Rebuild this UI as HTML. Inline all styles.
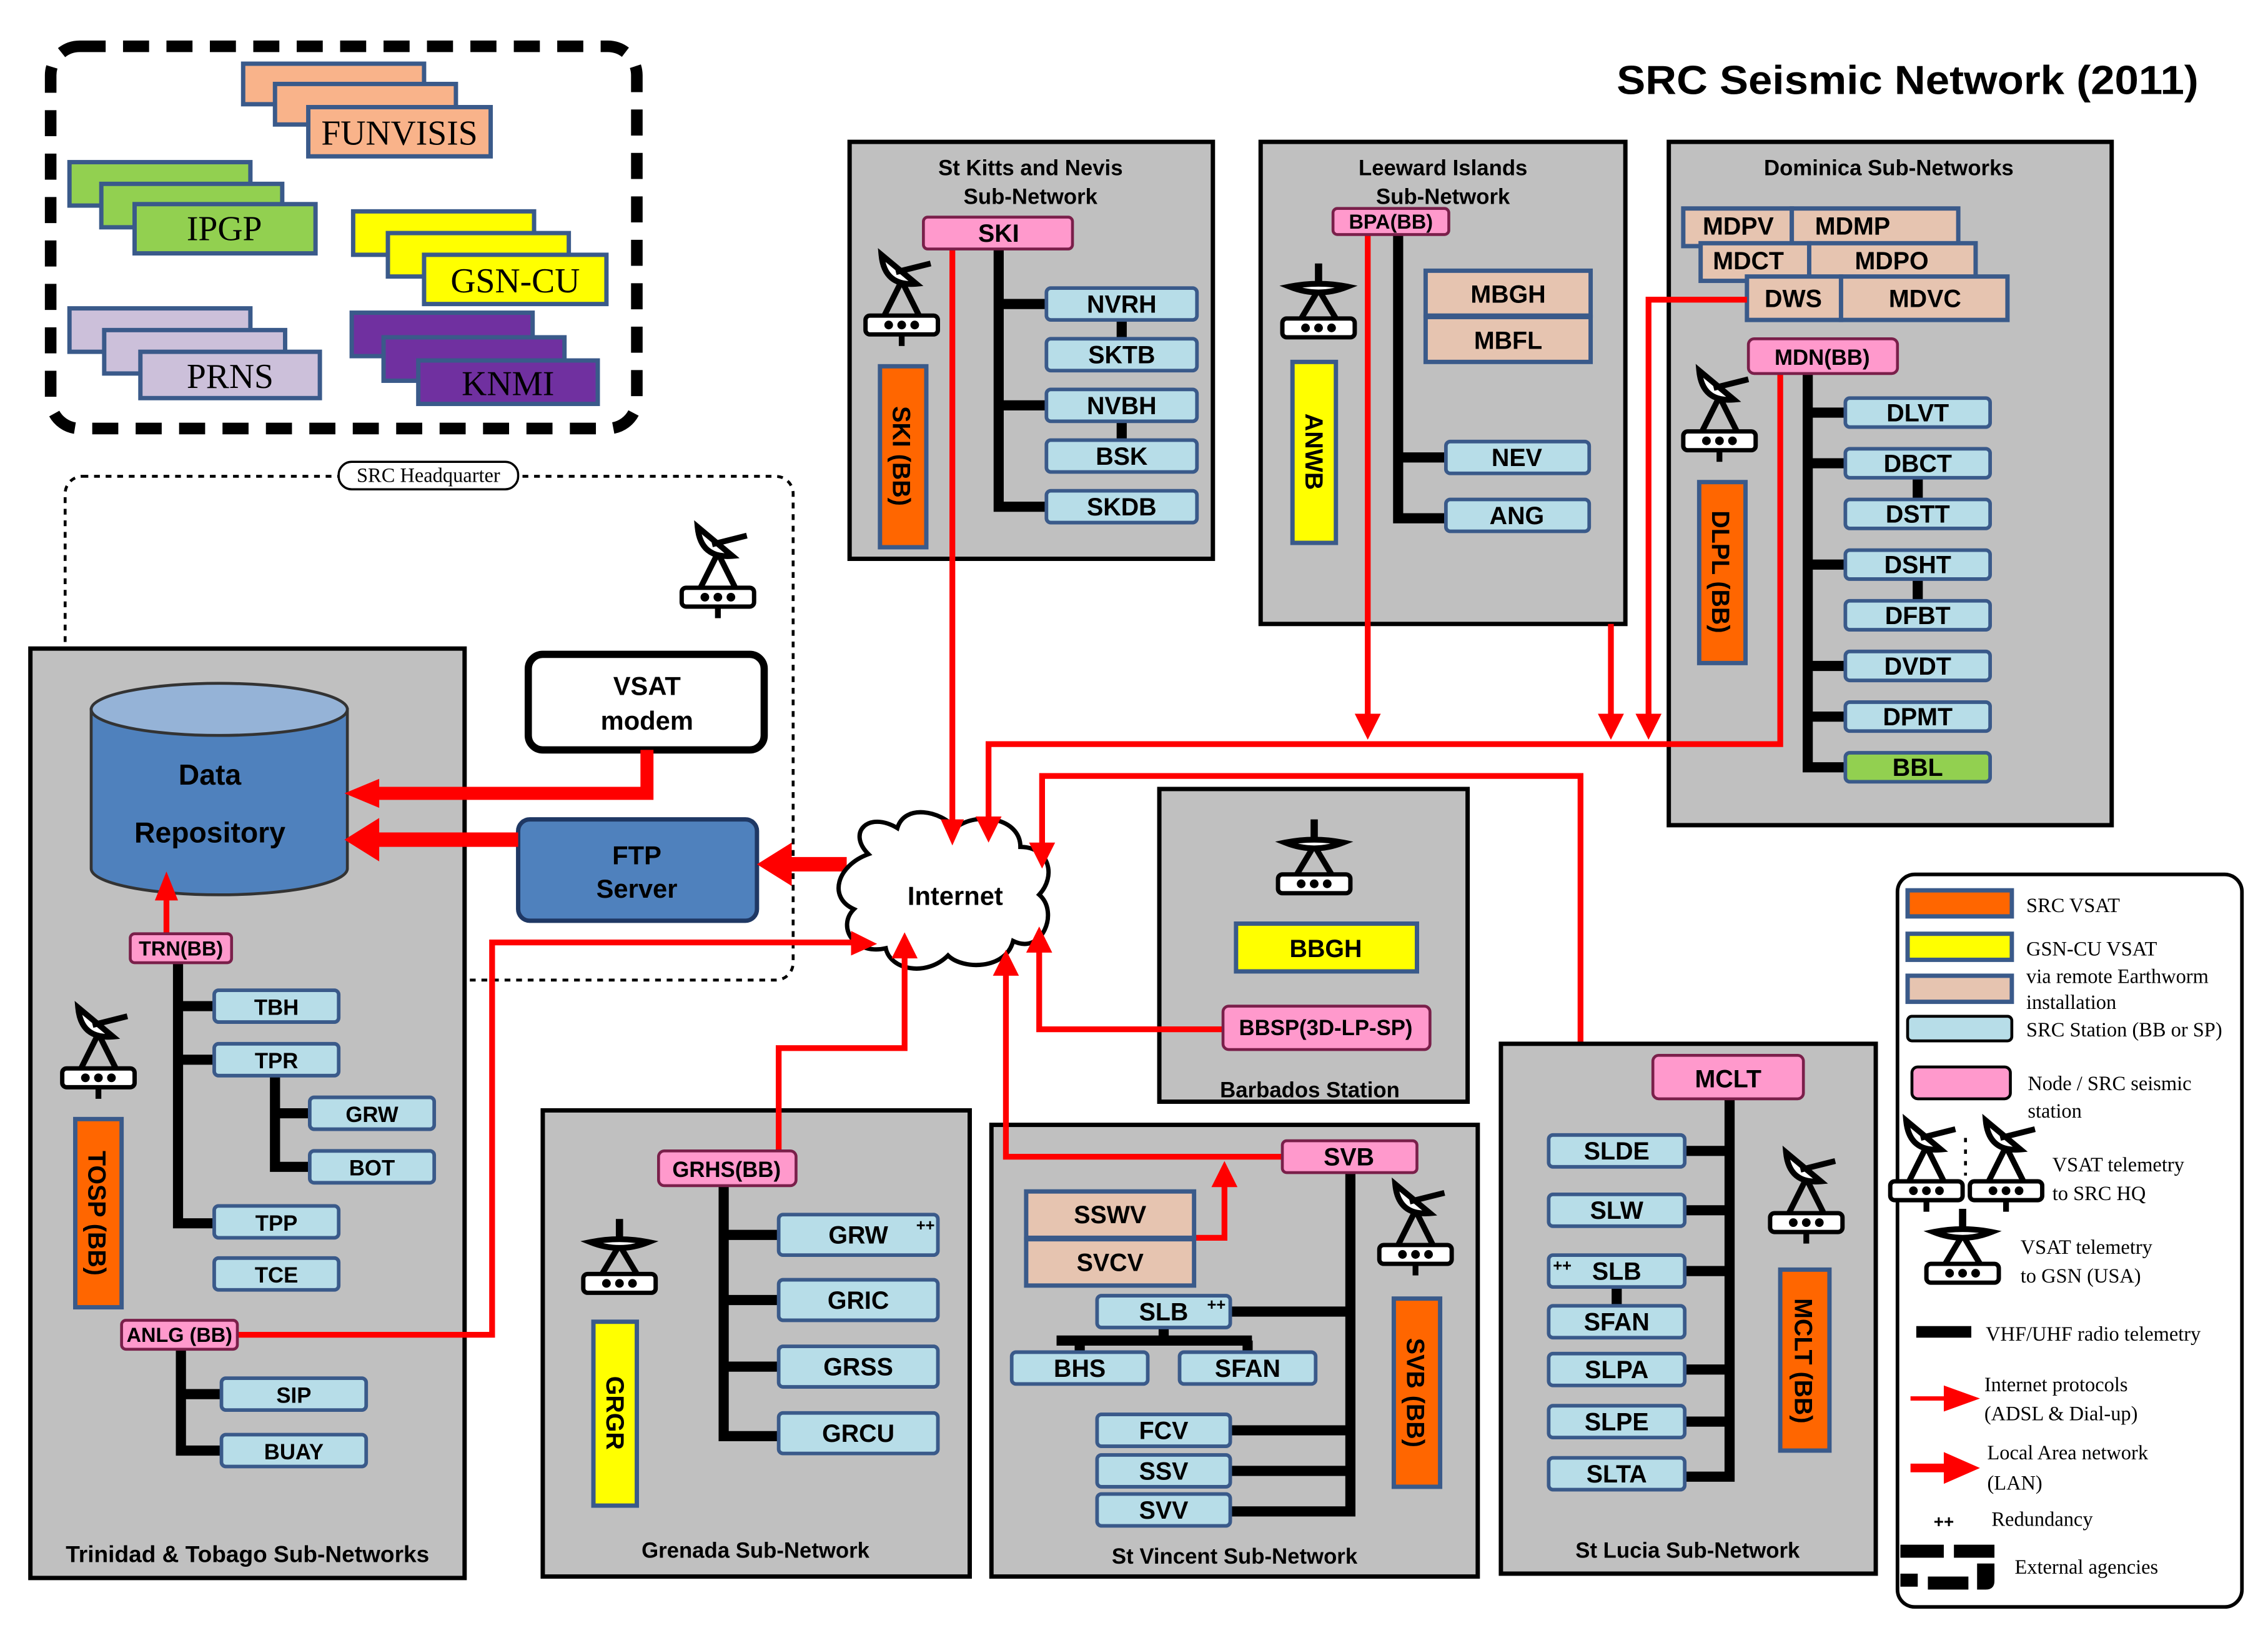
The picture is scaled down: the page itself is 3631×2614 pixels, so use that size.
<!DOCTYPE html>
<html><head><meta charset="utf-8"><style>
html,body{margin:0;padding:0;background:#fff}
svg{display:block}
.s{font-family:"Liberation Sans",sans-serif;font-weight:bold}
.r{font-family:"Liberation Serif",serif}
</style></head><body>
<svg width="3631" height="2614" viewBox="0 0 1567 1128" preserveAspectRatio="none" xmlns="http://www.w3.org/2000/svg">
<defs>
<g id="dish">
<rect x="-25" y="0" width="50" height="13" rx="3" fill="#fff" stroke="#000" stroke-width="3"/>
<circle cx="-9" cy="6.5" r="3" fill="#000"/><circle cx="0" cy="6.5" r="3" fill="#000"/><circle cx="9" cy="6.5" r="3" fill="#000"/>
<rect x="-2" y="13" width="4" height="8" fill="#000"/>
<path d="M-12 0 L0 -24 L12 0" fill="none" stroke="#000" stroke-width="4"/>
<path d="M-14 -42 Q-12 -20 10 -22 Z" fill="#fff" stroke="#000" stroke-width="4"/>
<path d="M-4 -30 L20 -36" stroke="#000" stroke-width="4"/>
</g>
<g id="dish2">
<rect x="-25" y="0" width="50" height="13" rx="3" fill="#fff" stroke="#000" stroke-width="3"/>
<circle cx="-9" cy="6.5" r="3" fill="#000"/><circle cx="0" cy="6.5" r="3" fill="#000"/><circle cx="9" cy="6.5" r="3" fill="#000"/>
<path d="M-12 0 L0 -20 L12 0" fill="none" stroke="#000" stroke-width="4"/>
<path d="M-20 -22 Q0 -14 20 -22 Q0 -26 -20 -22Z" fill="#fff" stroke="#000" stroke-width="4"/>
<path d="M0 -24 L0 -38" stroke="#000" stroke-width="5"/>
</g>
</defs>

<text x="1318" y="65" text-anchor="middle" class="s" font-size="28" textLength="402" lengthAdjust="spacingAndGlyphs">SRC Seismic Network (2011)</text>

<!-- External agencies -->
<rect x="35" y="32" width="405" height="264" rx="20" fill="none" stroke="#000" stroke-width="8" stroke-dasharray="18,12"/>
<g stroke="#3a5a8a" stroke-width="3">
<rect x="168" y="44" width="125" height="28" fill="#f9b38a"/>
<rect x="190" y="58" width="125" height="28" fill="#f9b38a"/>
<rect x="213" y="74" width="126" height="34" fill="#f9b38a"/>
<rect x="48" y="112" width="125" height="30" fill="#92d050"/>
<rect x="70" y="127" width="125" height="30" fill="#92d050"/>
<rect x="93" y="141" width="125" height="34" fill="#92d050"/>
<rect x="244" y="146" width="125" height="30" fill="#ffff00"/>
<rect x="268" y="161" width="125" height="30" fill="#ffff00"/>
<rect x="293" y="176" width="126" height="34" fill="#ffff00"/>
<rect x="48" y="213" width="125" height="30" fill="#ccc0da"/>
<rect x="72" y="228" width="125" height="30" fill="#ccc0da"/>
<rect x="97" y="243" width="124" height="32" fill="#ccc0da"/>
<rect x="243" y="216" width="125" height="30" fill="#7030a0"/>
<rect x="265" y="233" width="125" height="30" fill="#7030a0"/>
<rect x="289" y="249" width="124" height="30" fill="#7030a0"/>
</g>
<g class="r" font-size="24" text-anchor="middle">
<text x="276" y="100">FUNVISIS</text><text x="155" y="166">IPGP</text>
<text x="356" y="202">GSN-CU</text><text x="159" y="268">PRNS</text><text x="351" y="273">KNMI</text>
</g>

<!-- SRC HQ -->
<rect x="45" y="329" width="503" height="348" rx="12" fill="none" stroke="#000" stroke-width="2" stroke-dasharray="4,4"/>
<rect x="234" y="319" width="124" height="19" rx="9" fill="#fff" stroke="#000" stroke-width="1.5"/>
<text x="296" y="333" text-anchor="middle" class="r" font-size="14">SRC Headquarter</text>

<!-- T&T -->
<rect x="21" y="448" width="300" height="642" fill="#c0c0c0" stroke="#000" stroke-width="3"/>
<text x="171" y="1079" text-anchor="middle" class="s" font-size="16">Trinidad &amp; Tobago Sub-Networks</text>
<path d="M63 490 L63 600 A88 18 0 0 0 240 600 L240 490 Z" fill="#4f81bd" stroke="#333" stroke-width="2"/>
<ellipse cx="151.5" cy="490" rx="88.5" ry="18" fill="#95b3d7" stroke="#333" stroke-width="2"/>
<text x="145" y="542" text-anchor="middle" class="s" font-size="20">Data</text>
<text x="145" y="582" text-anchor="middle" class="s" font-size="20">Repository</text>

<rect x="365" y="452" width="163" height="66" rx="10" fill="#fff" stroke="#000" stroke-width="5"/>
<text x="447" y="480" text-anchor="middle" class="s" font-size="18">VSAT</text>
<text x="447" y="504" text-anchor="middle" class="s" font-size="18">modem</text>
<use href="#dish" x="496" y="406"/>
<rect x="358" y="566" width="165" height="70" rx="8" fill="#4f81bd" stroke="#1f3864" stroke-width="3"/>
<text x="440" y="597" text-anchor="middle" class="s" font-size="18">FTP</text>
<text x="440" y="620" text-anchor="middle" class="s" font-size="18">Server</text>

<!-- thick LAN arrows -->
<path d="M447 518 V548 H258" fill="none" stroke="#ff0000" stroke-width="9"/>
<path d="M262 538 L238 548 L262 558Z" fill="#ff0000"/>
<path d="M358 580 H258" stroke="#ff0000" stroke-width="10"/>
<path d="M262 565 L238 580 L262 595Z" fill="#ff0000"/>
<path d="M585 597 H543" stroke="#ff0000" stroke-width="10"/>
<path d="M547 582 L523 597 L547 612Z" fill="#ff0000"/>

<!-- Internet cloud -->
<path d="M600 590 C585 575 600 560 620 572 C625 555 650 560 660 572 C675 560 705 565 705 585 C725 585 730 605 718 618 C732 630 720 660 700 650 C695 670 665 670 655 660 C640 675 615 670 612 655 C590 660 578 640 590 628 C572 620 578 598 600 590 Z" fill="#fff" stroke="#000" stroke-width="3"/>
<text x="660" y="625" text-anchor="middle" class="s" font-size="18">Internet</text>

<!-- TRN -->
<g stroke="#000" stroke-width="7" fill="none">
<path d="M123 665 V845 H148"/><path d="M123 695 H148"/><path d="M123 732 H190 V806 H214"/><path d="M190 769 H214"/>
<path d="M125 932 V1002 H153"/><path d="M125 963 H153"/>
</g>
<g fill="#ff0000" stroke="none"><rect x="113" y="620" width="4" height="25"/><path d="M107 622 L115 602 L123 622Z"/></g>
<rect x="90" y="645" width="70" height="20" rx="3" fill="#ff99cc" stroke="#7a1f4a" stroke-width="2"/>
<text x="125" y="660" text-anchor="middle" class="s" font-size="14">TRN(BB)</text>
<g fill="#b7dde8" stroke="#3a5a8a" stroke-width="2.5">
<rect x="148" y="684" width="86" height="22" rx="3"/><rect x="148" y="721" width="86" height="22" rx="3"/>
<rect x="214" y="758" width="86" height="22" rx="3"/><rect x="214" y="795" width="86" height="22" rx="3"/>
<rect x="148" y="833" width="86" height="22" rx="3"/><rect x="148" y="869" width="86" height="22" rx="3"/>
<rect x="153" y="952" width="100" height="22" rx="3"/><rect x="153" y="991" width="100" height="22" rx="3"/>
</g>
<g class="s" font-size="15" text-anchor="middle">
<text x="191" y="701">TBH</text><text x="191" y="738">TPR</text><text x="257" y="775">GRW</text><text x="257" y="812">BOT</text>
<text x="191" y="850">TPP</text><text x="191" y="886">TCE</text><text x="203" y="969">SIP</text><text x="203" y="1008">BUAY</text>
</g>
<use href="#dish" x="68" y="738"/>
<rect x="52" y="773" width="32" height="130" fill="#ff6600" stroke="#3a5a8a" stroke-width="3"/>
<text transform="translate(61,838) rotate(90)" text-anchor="middle" class="s" font-size="17">TOSP (BB)</text>
<path d="M164 922 H340 V651 H590" fill="none" stroke="#ff0000" stroke-width="4"/>
<path d="M588 643 L606 652 L588 660Z" fill="#ff0000"/>
<rect x="84" y="912" width="80" height="20" rx="3" fill="#ff99cc" stroke="#7a1f4a" stroke-width="2"/>
<text x="124" y="927" text-anchor="middle" class="s" font-size="14">ANLG (BB)</text>

<!-- St Kitts -->
<rect x="587" y="98" width="251" height="288" fill="#c0c0c0" stroke="#000" stroke-width="3"/>
<text x="712" y="121" text-anchor="middle" class="s" font-size="15">St Kitts and Nevis</text>
<text x="712" y="141" text-anchor="middle" class="s" font-size="15">Sub-Network</text>
<g stroke="#000" stroke-width="7" fill="none">
<path d="M690 172 V350 H723"/><path d="M690 210 H723"/><path d="M690 280 H723"/><path d="M775 221 V234"/><path d="M775 291 V304"/>
</g>
<g fill="#b7dde8" stroke="#3a5a8a" stroke-width="2.5">
<rect x="723" y="199" width="104" height="22" rx="3"/><rect x="723" y="234" width="104" height="22" rx="3"/>
<rect x="723" y="269" width="104" height="22" rx="3"/><rect x="723" y="304" width="104" height="22" rx="3"/><rect x="723" y="339" width="104" height="22" rx="3"/>
</g>
<g class="s" font-size="17" text-anchor="middle">
<text x="775" y="216">NVRH</text><text x="775" y="251">SKTB</text><text x="775" y="286">NVBH</text><text x="775" y="321">BSK</text><text x="775" y="356">SKDB</text>
</g>
<use href="#dish" x="623" y="218"/>
<rect x="608" y="253" width="32" height="125" fill="#ff6600" stroke="#3a5a8a" stroke-width="3"/>
<text transform="translate(617,315) rotate(90)" text-anchor="middle" class="s" font-size="17">SKI (BB)</text>
<path d="M658 172 V568" stroke="#ff0000" stroke-width="4"/><path d="M650 566 L658 584 L666 566Z" fill="#ff0000"/>
<rect x="638" y="150" width="103" height="22" rx="3" fill="#ff99cc" stroke="#7a1f4a" stroke-width="2"/>
<text x="690" y="167" text-anchor="middle" class="s" font-size="17">SKI</text>

<!-- Leeward -->
<rect x="871" y="98" width="252" height="333" fill="#c0c0c0" stroke="#000" stroke-width="3"/>
<text x="997" y="121" text-anchor="middle" class="s" font-size="15">Leeward Islands</text>
<text x="997" y="141" text-anchor="middle" class="s" font-size="15">Sub-Network</text>
<g stroke="#000" stroke-width="7" fill="none"><path d="M966 162 V358 H999"/><path d="M966 316 H999"/></g>
<rect x="985" y="187" width="114" height="31" fill="#e6c4b0" stroke="#3a5a8a" stroke-width="3"/>
<rect x="985" y="219" width="114" height="31" fill="#e6c4b0" stroke="#3a5a8a" stroke-width="3"/>
<rect x="999" y="305" width="99" height="22" rx="3" fill="#b7dde8" stroke="#3a5a8a" stroke-width="2.5"/>
<rect x="999" y="345" width="99" height="22" rx="3" fill="#b7dde8" stroke="#3a5a8a" stroke-width="2.5"/>
<g class="s" font-size="17" text-anchor="middle">
<text x="1042" y="209">MBGH</text><text x="1042" y="241">MBFL</text><text x="1048" y="322">NEV</text><text x="1048" y="362">ANG</text>
</g>
<use href="#dish2" x="911" y="220"/>
<rect x="893" y="250" width="30" height="125" fill="#ffff00" stroke="#3a5a8a" stroke-width="3"/>
<text transform="translate(902,312) rotate(90)" text-anchor="middle" class="s" font-size="17">ANWB</text>
<path d="M945 162 V496" stroke="#ff0000" stroke-width="4"/><path d="M936 493 L945 511 L954 493Z" fill="#ff0000"/>
<rect x="921" y="144" width="80" height="18" rx="3" fill="#ff99cc" stroke="#7a1f4a" stroke-width="2"/>
<text x="961" y="158" text-anchor="middle" class="s" font-size="14">BPA(BB)</text>
<path d="M1113 431 V496" stroke="#ff0000" stroke-width="4"/><path d="M1104 493 L1113 511 L1122 493Z" fill="#ff0000"/>

<!-- Dominica -->
<rect x="1153" y="98" width="306" height="472" fill="#c0c0c0" stroke="#000" stroke-width="3"/>
<text x="1305" y="121" text-anchor="middle" class="s" font-size="15">Dominica Sub-Networks</text>
<g fill="#e6c4b0" stroke="#3a5a8a" stroke-width="3">
<rect x="1163" y="144" width="75" height="26"/><rect x="1238" y="144" width="115" height="26"/>
<rect x="1175" y="168" width="75" height="26"/><rect x="1250" y="168" width="115" height="26"/>
<rect x="1207" y="191" width="65" height="30"/><rect x="1272" y="191" width="115" height="30"/>
</g>
<g class="s" font-size="17" text-anchor="middle">
<text x="1201" y="162">MDPV</text><text x="1280" y="162">MDMP</text><text x="1208" y="186">MDCT</text><text x="1307" y="186">MDPO</text>
<text x="1239" y="212">DWS</text><text x="1330" y="212">MDVC</text>
</g>
<g stroke="#000" stroke-width="7" fill="none">
<path d="M1249 258 V530 H1275"/><path d="M1249 285 H1275"/><path d="M1249 320 H1275"/><path d="M1249 390 H1275"/>
<path d="M1249 460 H1275"/><path d="M1249 495 H1275"/><path d="M1325 330 V345"/><path d="M1325 400 V415"/>
</g>
<g fill="#b7dde8" stroke="#3a5a8a" stroke-width="2.5">
<rect x="1275" y="275" width="100" height="20" rx="3"/><rect x="1275" y="310" width="100" height="20" rx="3"/>
<rect x="1275" y="345" width="100" height="20" rx="3"/><rect x="1275" y="380" width="100" height="20" rx="3"/>
<rect x="1275" y="415" width="100" height="20" rx="3"/><rect x="1275" y="450" width="100" height="20" rx="3"/>
<rect x="1275" y="485" width="100" height="20" rx="3"/><rect x="1275" y="520" width="100" height="20" rx="3" fill="#92d050"/>
</g>
<g class="s" font-size="17" text-anchor="middle">
<text x="1325" y="291">DLVT</text><text x="1325" y="326">DBCT</text><text x="1325" y="361">DSTT</text><text x="1325" y="396">DSHT</text>
<text x="1325" y="431">DFBT</text><text x="1325" y="466">DVDT</text><text x="1325" y="501">DPMT</text><text x="1325" y="536">BBL</text>
</g>
<use href="#dish" x="1188" y="298"/>
<rect x="1174" y="333" width="32" height="125" fill="#ff6600" stroke="#3a5a8a" stroke-width="3"/>
<text transform="translate(1183,395) rotate(90)" text-anchor="middle" class="s" font-size="17">DLPL (BB)</text>
<path d="M1207 207 H1139 V496" fill="none" stroke="#ff0000" stroke-width="4"/><path d="M1130 493 L1139 511 L1148 493Z" fill="#ff0000"/>
<path d="M1230 258 V514 H683 V566" fill="none" stroke="#ff0000" stroke-width="4"/><path d="M674 564 L683 582 L692 564Z" fill="#ff0000"/>
<rect x="1208" y="234" width="103" height="24" rx="4" fill="#ff99cc" stroke="#7a1f4a" stroke-width="2"/>
<text x="1259" y="252" text-anchor="middle" class="s" font-size="15">MDN(BB)</text>
<path d="M1142 744 H1092 V536 H720 V584" fill="none" stroke="#ff0000" stroke-width="4"/><path d="M711 582 L720 600 L729 582Z" fill="#ff0000"/>

<!-- Barbados -->
<rect x="801" y="545" width="213" height="216" fill="#c0c0c0" stroke="#000" stroke-width="3"/>
<use href="#dish2" x="908" y="604"/>
<rect x="854" y="638" width="125" height="33" fill="#ffff00" stroke="#3a5a8a" stroke-width="3"/>
<text x="916" y="661" text-anchor="middle" class="s" font-size="17">BBGH</text>
<path d="M845 711 H718 V656" fill="none" stroke="#ff0000" stroke-width="4"/><path d="M709 658 L718 640 L727 658Z" fill="#ff0000"/>
<rect x="845" y="695" width="143" height="30" rx="4" fill="#ff99cc" stroke="#7a1f4a" stroke-width="2"/>
<text x="916" y="715" text-anchor="middle" class="s" font-size="15">BBSP(3D-LP-SP)</text>
<text x="905" y="758" text-anchor="middle" class="s" font-size="15">Barbados Station</text>

<!-- Grenada -->
<rect x="375" y="767" width="295" height="322" fill="#c0c0c0" stroke="#000" stroke-width="3"/>
<text x="522" y="1076" text-anchor="middle" class="s" font-size="15">Grenada Sub-Network</text>
<path d="M538 795 V724 H625 V660" fill="none" stroke="#ff0000" stroke-width="4"/><path d="M616 662 L625 644 L634 662Z" fill="#ff0000"/>
<g stroke="#000" stroke-width="7" fill="none"><path d="M500 819 V992 H538"/><path d="M500 853 H538"/><path d="M500 898 H538"/><path d="M500 944 H538"/></g>
<g fill="#b7dde8" stroke="#3a5a8a" stroke-width="2.5">
<rect x="538" y="839" width="110" height="28" rx="3"/><rect x="538" y="884" width="110" height="28" rx="3"/>
<rect x="538" y="930" width="110" height="28" rx="3"/><rect x="538" y="976" width="110" height="28" rx="3"/>
</g>
<g class="s" font-size="17" text-anchor="middle">
<text x="593" y="859">GRW</text><text x="593" y="904">GRIC</text><text x="593" y="950">GRSS</text><text x="593" y="996">GRCU</text>
</g>
<text x="633" y="850" class="s" font-size="11">++</text>
<rect x="455" y="795" width="95" height="24" rx="4" fill="#ff99cc" stroke="#7a1f4a" stroke-width="2"/>
<text x="502" y="813" text-anchor="middle" class="s" font-size="15">GRHS(BB)</text>
<use href="#dish2" x="428" y="880"/>
<rect x="410" y="913" width="30" height="127" fill="#ffff00" stroke="#3a5a8a" stroke-width="3"/>
<text transform="translate(419,976) rotate(90)" text-anchor="middle" class="s" font-size="17">GRGR</text>

<!-- St Vincent -->
<rect x="685" y="777" width="336" height="312" fill="#c0c0c0" stroke="#000" stroke-width="3"/>
<text x="853" y="1080" text-anchor="middle" class="s" font-size="15">St Vincent Sub-Network</text>
<path d="M886 799 H695 V672" fill="none" stroke="#ff0000" stroke-width="4"/><path d="M686 674 L695 656 L704 674Z" fill="#ff0000"/>
<path d="M826 855 H846 V818" fill="none" stroke="#ff0000" stroke-width="4"/><path d="M837 820 L846 802 L855 820Z" fill="#ff0000"/>
<g stroke="#000" stroke-width="7" fill="none">
<path d="M933 810 V1044 H850"/><path d="M933 906 H850"/><path d="M933 988 H850"/><path d="M933 1016 H850"/>
<path d="M730 926 H865"/><path d="M746 926 V934"/><path d="M862 926 V934"/><path d="M804 917 V926"/>
</g>
<rect x="709" y="823" width="116" height="32" fill="#e6c4b0" stroke="#3a5a8a" stroke-width="3"/>
<rect x="709" y="856" width="116" height="32" fill="#e6c4b0" stroke="#3a5a8a" stroke-width="3"/>
<g fill="#b7dde8" stroke="#3a5a8a" stroke-width="2.5">
<rect x="758" y="895" width="92" height="22" rx="3"/><rect x="699" y="934" width="94" height="22" rx="3"/><rect x="815" y="934" width="94" height="22" rx="3"/>
<rect x="758" y="977" width="92" height="22" rx="3"/><rect x="758" y="1005" width="92" height="22" rx="3"/><rect x="758" y="1032" width="92" height="22" rx="3"/>
</g>
<g class="s" font-size="17" text-anchor="middle">
<text x="767" y="845">SSWV</text><text x="767" y="878">SVCV</text><text x="804" y="912">SLB</text><text x="746" y="951">BHS</text><text x="862" y="951">SFAN</text>
<text x="804" y="994">FCV</text><text x="804" y="1022">SSV</text><text x="804" y="1049">SVV</text>
</g>
<text x="834" y="905" class="s" font-size="11">++</text>
<rect x="886" y="788" width="93" height="22" rx="3" fill="#ff99cc" stroke="#7a1f4a" stroke-width="2"/>
<text x="932" y="805" text-anchor="middle" class="s" font-size="17">SVB</text>
<use href="#dish" x="978" y="860"/>
<rect x="963" y="897" width="32" height="130" fill="#ff6600" stroke="#3a5a8a" stroke-width="3"/>
<text transform="translate(972,962) rotate(90)" text-anchor="middle" class="s" font-size="17">SVB (BB)</text>

<!-- St Lucia -->
<rect x="1037" y="721" width="259" height="366" fill="#c0c0c0" stroke="#000" stroke-width="3"/>
<text x="1166" y="1076" text-anchor="middle" class="s" font-size="15">St Lucia Sub-Network</text>
<g stroke="#000" stroke-width="7" fill="none">
<path d="M1195 759 V1020 H1164"/><path d="M1195 795 H1164"/><path d="M1195 836 H1164"/><path d="M1195 878 H1164"/>
<path d="M1195 946 H1164"/><path d="M1195 982 H1164"/><path d="M1117 889 V902"/>
</g>
<g fill="#b7dde8" stroke="#3a5a8a" stroke-width="2.5">
<rect x="1070" y="784" width="94" height="22" rx="3"/><rect x="1070" y="825" width="94" height="22" rx="3"/>
<rect x="1070" y="867" width="94" height="22" rx="3"/><rect x="1070" y="902" width="94" height="22" rx="3"/>
<rect x="1070" y="935" width="94" height="22" rx="3"/><rect x="1070" y="971" width="94" height="22" rx="3"/><rect x="1070" y="1007" width="94" height="22" rx="3"/>
</g>
<g class="s" font-size="17" text-anchor="middle">
<text x="1117" y="801">SLDE</text><text x="1117" y="842">SLW</text><text x="1117" y="884">SLB</text><text x="1117" y="919">SFAN</text>
<text x="1117" y="952">SLPA</text><text x="1117" y="988">SLPE</text><text x="1117" y="1024">SLTA</text>
</g>
<text x="1073" y="878" class="s" font-size="11">++</text>
<rect x="1142" y="729" width="104" height="30" rx="4" fill="#ff99cc" stroke="#7a1f4a" stroke-width="2"/>
<text x="1194" y="751" text-anchor="middle" class="s" font-size="17">MCLT</text>
<use href="#dish" x="1248" y="838"/>
<rect x="1230" y="877" width="34" height="125" fill="#ff6600" stroke="#3a5a8a" stroke-width="3"/>
<text transform="translate(1240,940) rotate(90)" text-anchor="middle" class="s" font-size="17">MCLT (BB)</text>

<!-- Legend -->
<rect x="1311" y="604" width="238" height="506" rx="12" fill="#fff" stroke="#000" stroke-width="2.5"/>
<rect x="1318" y="615" width="72" height="18" fill="#ff6600" stroke="#3a5a8a" stroke-width="3"/>
<rect x="1318" y="645" width="72" height="18" fill="#ffff00" stroke="#3a5a8a" stroke-width="3"/>
<rect x="1318" y="674" width="72" height="18" fill="#e6c4b0" stroke="#3a5a8a" stroke-width="3"/>
<rect x="1318" y="702" width="72" height="17" rx="3" fill="#b7dde8" stroke="#000" stroke-width="2"/>
<rect x="1321" y="737" width="68" height="22" rx="4" fill="#ff99cc" stroke="#000" stroke-width="2"/>
<g class="r" font-size="14">
<text x="1400" y="630">SRC VSAT</text>
<text x="1400" y="660">GSN-CU VSAT</text><text x="1400" y="679">via remote Earthworm</text><text x="1400" y="697">installation</text>
<text x="1400" y="716">SRC Station (BB or SP)</text>
<text x="1401" y="753">Node / SRC seismic</text><text x="1401" y="772">station</text>
<text x="1418" y="809">VSAT telemetry</text><text x="1418" y="829">to SRC HQ</text>
<text x="1396" y="866">VSAT telemetry</text><text x="1396" y="886">to GSN (USA)</text>
<text x="1372" y="926">VHF/UHF radio telemetry</text>
<text x="1371" y="961">Internet protocols</text><text x="1371" y="981">(ADSL &amp; Dial-up)</text>
<text x="1373" y="1008">Local Area network</text><text x="1373" y="1029">(LAN)</text>
<text x="1376" y="1054">Redundancy</text>
<text x="1392" y="1087">External agencies</text>
</g>
<use href="#dish" x="1331" y="816"/>
<use href="#dish" x="1386" y="816"/>
<path d="M1358 786 V812" stroke="#000" stroke-width="2" stroke-dasharray="3,5"/>
<use href="#dish2" x="1356" y="873"/>
<rect x="1324" y="916" width="38" height="8" fill="#000"/>
<path d="M1320 966 H1345" stroke="#ff0000" stroke-width="3"/><path d="M1343 957 L1368 966 L1343 975Z" fill="#ff0000"/>
<path d="M1320 1014 H1345" stroke="#ff0000" stroke-width="6"/><path d="M1343 1003 L1368 1014 L1343 1025Z" fill="#ff0000"/>
<text x="1336" y="1055" class="s" font-size="12">++</text>
<g fill="#000"><rect x="1313" y="1067" width="30" height="9"/><rect x="1350" y="1067" width="28" height="9"/><rect x="1313" y="1087" width="12" height="9"/><rect x="1332" y="1089" width="28" height="9"/><path d="M1366 1080 h12 v12 q0 6 -6 6 h-6z"/></g>
</svg>
</body></html>
